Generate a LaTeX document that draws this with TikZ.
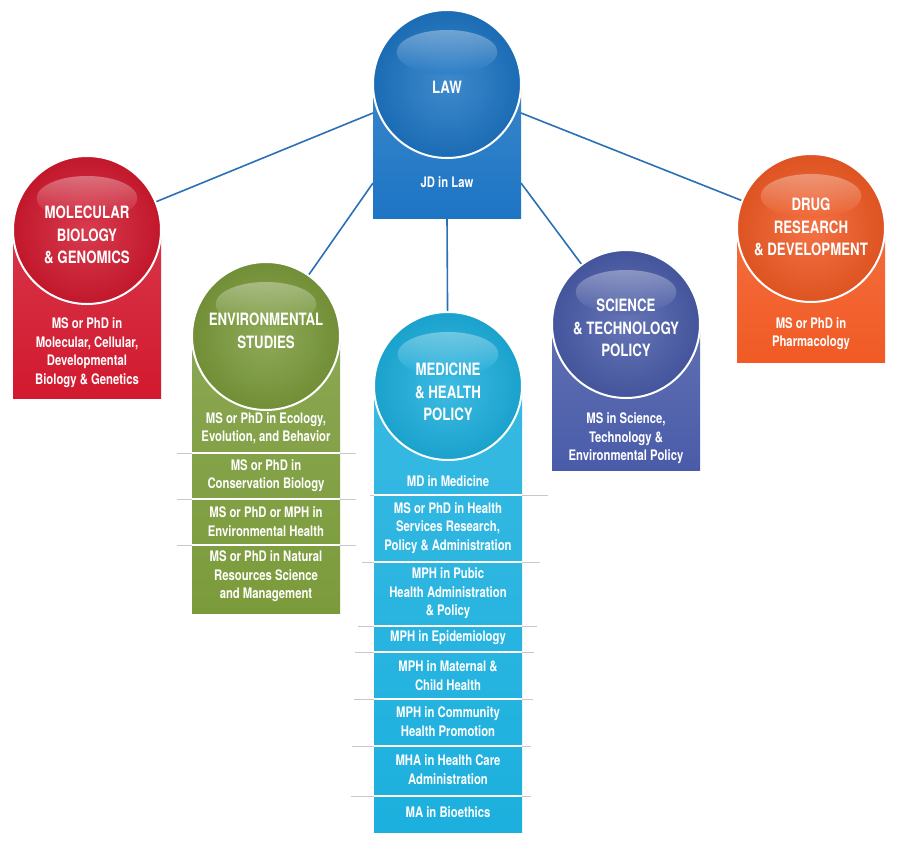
\documentclass[tikz,border=0pt]{standalone}
\usepackage{fontspec}
\setmainfont{TeX Gyre Heros}[FakeStretch=0.78]
\definecolor{cred}{HTML}{D2192F}
\definecolor{cgreen}{HTML}{7B9B3B}
\definecolor{ccyan}{HTML}{1CB0DE}
\definecolor{cindigo}{HTML}{4A5CA9}
\definecolor{corange}{HTML}{F15A24}
\definecolor{cblue}{HTML}{1D75C4}
\definecolor{clink}{HTML}{2B6FB6}
\definecolor{csep}{HTML}{C8C8C8}
\tikzset{
  conn/.style={draw=clink, line width=1.6pt},
  ttl/.style={text=white, font=\bfseries\fontsize{17}{22.5}\selectfont, align=center, inner sep=0pt},
  itm/.style={text=white, font=\bfseries\fontsize{14.5}{18.5}\selectfont, align=center, inner sep=0pt},
  ball/.style={circle, draw=white, line width=2pt, inner sep=0pt, minimum size=#1},
}
% name, color, cx, cy, r, bottom
\newcommand{\drawunit}[6]{%
  \shade[top color=#2!88!white, bottom color=#2] (#3-#5, #4) rectangle (#3+#5, #6);
  \node[ball={2*#5pt}, shading=radial, inner color=#2!85!white, outer color=#2!92!black] (#1) at (#3,#4) {};
  \shade[top color=white, bottom color=#2, opacity=0.35] (#3, #4-0.43*#5) ellipse [x radius={0.68*#5pt}, y radius={0.3*#5pt}];
}
% y, x1, x2, rx1, rx2
\newcommand{\sepline}[5]{%
  \draw[csep, line width=1pt] (#2,#1) -- (#3,#1);
  \draw[white, line width=1.6pt] (#4,#1) -- (#5,#1);
}
\begin{document}
\begin{tikzpicture}[x=1pt,y=-1pt]
\useasboundingbox (0,0) rectangle (900,844);

% units
\drawunit{lawball}{cblue}{447}{84}{74}{218}
\drawunit{molball}{cred}{87}{230}{74}{398}
\drawunit{envball}{cgreen}{266}{336}{74}{613}
\drawunit{medball}{ccyan}{448}{386}{74}{832}
\drawunit{sciball}{cindigo}{626}{324}{74}{470}
\drawunit{drugball}{corange}{811}{228}{74}{362}

% separators
\sepline{453}{177}{356}{192}{340}
\sepline{499}{177}{356}{192}{340}
\sepline{545}{177}{356}{192}{340}

\sepline{495}{370}{548}{374}{522}
\sepline{562}{362}{540}{374}{522}
\sepline{626}{358}{537}{374}{522}
\sepline{652}{355}{534}{374}{522}
\sepline{699}{354}{533}{374}{522}
\sepline{746}{352}{531}{374}{522}
\sepline{796}{351}{531}{374}{522}

% titles
\node[ttl] (lawt) at (447,87) {LAW};
\node[ttl] (molt) at (87,235) {MOLECULAR\\BIOLOGY\\\& GENOMICS};
\node[ttl] (envt) at (266,331) {ENVIRONMENTAL\\STUDIES};
\node[ttl] (medt) at (448,392) {MEDICINE\\\& HEALTH\\POLICY};
\node[ttl] (scit) at (626,328) {SCIENCE\\\& TECHNOLOGY\\POLICY};
\node[ttl] (drugt) at (811,227) {DRUG\\RESEARCH\\\& DEVELOPMENT};

% items
\node[itm] (law1) at (447,182) {JD in Law};
\node[itm] (mol1) at (87,352.5) {MS or PhD in\\Molecular, Cellular,\\Developmental\\Biology \& Genetics};
\node[itm] (env1) at (266,428.5) {MS or PhD in Ecology,\\Evolution, and Behavior};
\node[itm] (env2) at (266,475.5) {MS or PhD in\\Conservation Biology};
\node[itm] (env3) at (266,521.5) {MS or PhD or MPH in\\Environmental Health};
\node[itm] (env4) at (266,576.5) {MS or PhD in Natural\\Resources Science\\and Management};
\node[itm] (med1) at (448,481) {MD in Medicine};
\node[itm] (med2) at (448,528) {MS or PhD in Health\\Services Research,\\Policy \& Administration};
\node[itm] (med3) at (448,593.5) {MPH in Pubic\\Health Administration\\\& Policy};
\node[itm] (med4) at (448,638) {MPH in Epidemiology};
\node[itm] (med5) at (448,675.5) {MPH in Maternal \&\\Child Health};
\node[itm] (med6) at (448,721.5) {MPH in Community\\Health Promotion};
\node[itm] (med7) at (448,769.5) {MHA in Health Care\\Administration};
\node[itm] (med8) at (448,812) {MA in Bioethics};
\node[itm] (sci1) at (626,438.5) {MS in Science,\\Technology \&\\Environmental Policy};
\node[itm] (drug1) at (811,333.5) {MS or PhD in\\Pharmacology};

% connectors
\coordinate (lawL1) at (373,113);
\coordinate (lawL2) at (373,183);
\coordinate (lawR1) at (521,113);
\coordinate (lawR2) at (521,183);
\coordinate (lawB) at (447,218);
\draw[conn] (lawL1) -- (molball);
\draw[conn] (lawL2) -- (envball);
\draw[conn] (lawB) -- (medball);
\draw[conn] (lawR2) -- (sciball);
\draw[conn] (lawR1) -- (drugball);
\end{tikzpicture}
\end{document}
